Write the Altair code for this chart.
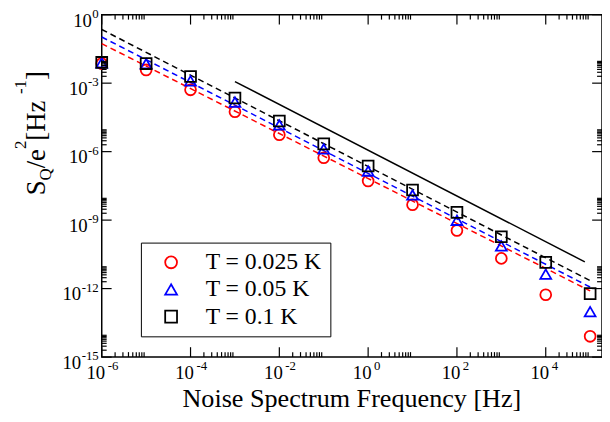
import altair as alt
import pandas as pd

W, H = 507, 347
SERIF = "Liberation Serif"

# ---- data ----
freq = [1e-6, 1e-5, 1e-4, 1e-3, 1e-2, 1e-1, 1e0, 1e1, 1e2, 1e3, 1e4, 1e5]
s_t0025 = [7.2e-3, 3.8e-3, 5.1e-4, 5.6e-5, 5.5e-6, 5.4e-7, 5.2e-8, 4.7e-9, 3.5e-10, 2.1e-11, 5.4e-13, 8.1e-15]
s_t005 = [7.8e-3, 7.1e-3, 1.26e-3, 1.48e-4, 1.48e-5, 1.32e-6, 1.41e-7, 1.26e-8, 9.8e-10, 7.4e-11, 4.3e-12, 9.8e-14]
s_t01 = [8.1e-3, 7.2e-3, 1.95e-3, 2.24e-4, 2.19e-5, 2.19e-6, 2.34e-7, 2.09e-8, 2.19e-9, 1.86e-10, 1.41e-11, 6.0e-13]

series_labels = ["T = 0.025 K", "T = 0.05 K", "T = 0.1 K"]
series_colors = ["#ff0000", "#0000ff", "#000000"]
series_shapes = ["circle", "triangle-up", "square"]

fit_freq = [1e-6, 1e5]
fit_t0025 = [5.4e-2, 7.9e-13]
fit_t005 = [1.05e-1, 1.17e-12]
fit_t01 = [2.24e-1, 2.24e-12]

ref_freq = [1e-3, 7.6e4]
ref_s = [1.17e-3, 1.48e-11]

x_major = [1e-6, 1e-4, 1e-2, 1e0, 1e2, 1e4]
x_exp = ["-6", "-4", "-2", "0", "2", "4"]
y_major = [1e0, 1e-3, 1e-6, 1e-9, 1e-12, 1e-15]
y_exp = ["0", "-3", "-6", "-9", "-12", "-15"]
minor_mult = [2, 3, 4, 5, 6, 7, 8, 9]

x_title = "Noise Spectrum Frequency [Hz]"
y_title_parts = ["S", "Q", "/e", "2", " [Hz", "-1", "]"]

XMAX = 1.85e5
xs = alt.Scale(type="log", domain=[1e-6, XMAX], nice=False)
ys = alt.Scale(type="log", domain=[1e-15, 1.0], nice=False)

layers = []

# dashed fits
for vals, col in zip([fit_t0025, fit_t005, fit_t01], series_colors):
    df = pd.DataFrame({"f": fit_freq, "s": vals})
    layers.append(
        alt.Chart(df).mark_line(color=col, strokeDash=[6, 4], strokeWidth=1.5).encode(
            x=alt.X("f:Q", scale=xs, axis=None), y=alt.Y("s:Q", scale=ys, axis=None)
        )
    )

# solid reference line
layers.append(
    alt.Chart(pd.DataFrame({"f": ref_freq, "s": ref_s})).mark_line(color="black", strokeWidth=1.5).encode(
        x=alt.X("f:Q", scale=xs, axis=None), y=alt.Y("s:Q", scale=ys, axis=None)
    )
)

# points
rows = []
for lbl, vals in zip(series_labels, [s_t0025, s_t005, s_t01]):
    for f, s in zip(freq, vals):
        rows.append({"f": f, "s": s, "series": lbl})
pts = pd.DataFrame(rows)

leg = dict(
    title=None, orient="none", legendX=39.7, legendY=231, padding=8,
    strokeColor="black", fillColor="white", labelFont=SERIF, labelFontSize=24,
    labelColor="black", symbolSize=144, symbolStrokeWidth=1.8, symbolOffset=10.6,
    labelOffset=23, rowPadding=3.5, labelLimit=400, symbolOpacity=1,
)
layers.append(
    alt.Chart(pts).mark_point(filled=False, size=121, strokeWidth=1.8, opacity=1).encode(
        x=alt.X("f:Q", scale=xs, axis=None),
        y=alt.Y("s:Q", scale=ys, axis=None),
        color=alt.Color("series:N", scale=alt.Scale(domain=series_labels, range=series_colors),
                        legend=alt.Legend(**leg)),
        shape=alt.Shape("series:N", scale=alt.Scale(domain=series_labels, range=series_shapes),
                        legend=alt.Legend(**leg)),
    )
)

# ticks (inward, on all four sides)
x_minor = [m * v for v in x_major for m in minor_mult if m * v <= XMAX]
y_minor = [m * v for v in y_major for m in minor_mult if m * v < 1.0]

def xticks(vals, length):
    df = pd.DataFrame({"v": vals})
    out = []
    for y0, y1 in [(H, H - length), (0, length)]:
        out.append(alt.Chart(df).mark_rule(color="black", strokeWidth=1.2).encode(
            x=alt.X("v:Q", scale=xs, axis=None), y=alt.value(y0), y2=alt.value(y1)))
    return out

def yticks(vals, length):
    df = pd.DataFrame({"v": vals})
    out = []
    for x0, x1 in [(0, length), (W, W - length)]:
        out.append(alt.Chart(df).mark_rule(color="black", strokeWidth=1.2).encode(
            y=alt.Y("v:Q", scale=ys, axis=None), x=alt.value(x0), x2=alt.value(x1)))
    return out

layers += xticks(x_major, 10) + xticks(x_minor, 5) + yticks(y_major, 10) + yticks(y_minor, 5)

# x tick labels
xl = pd.DataFrame({"v": x_major, "e": x_exp})
layers.append(alt.Chart(xl).mark_text(text="10", align="right", baseline="alphabetic", dx=3.5,
                                      font=SERIF, fontSize=19, color="black").encode(
    x=alt.X("v:Q", scale=xs, axis=None), y=alt.value(H + 22)))
layers.append(alt.Chart(xl).mark_text(align="left", baseline="alphabetic", dx=6,
                                      font=SERIF, fontSize=13, color="black").encode(
    x=alt.X("v:Q", scale=xs, axis=None), y=alt.value(H + 13), text="e:N"))

# y tick labels
yl = pd.DataFrame({"v": y_major, "e": y_exp})
layers.append(alt.Chart(yl).mark_text(align="right", baseline="alphabetic", dy=3,
                                      font=SERIF, fontSize=13, color="black").encode(
    y=alt.Y("v:Q", scale=ys, axis=None), x=alt.value(-3), text="e:N"))
for n, w in [(1, 7.0), (2, 11.3), (3, 17.8)]:
    layers.append(alt.Chart(yl).transform_filter(f"length(datum.e) == {n}").mark_text(
        text="10", align="right", baseline="alphabetic", dy=12, font=SERIF, fontSize=19,
        color="black").encode(y=alt.Y("v:Q", scale=ys, axis=None), x=alt.value(-3 - w)))

# x title
layers.append(alt.Chart(pd.DataFrame({"t": [x_title]})).mark_text(
    align="center", baseline="alphabetic", font=SERIF, fontSize=26.5, color="black").encode(
    x=alt.value(W / 2), y=alt.value(H + 51), text="t:N"))

# y title (rotated, with sub/superscripts)
base_x = -57
piece_style = [  # (font size, baseline shift; negative = raised)
    (27, 0), (17, 6), (27, 0), (17, -20), (27, 0), (17, -20), (27, 0)
]
widths = [15.0, 12.3, 19.5, 8.5, 47.2, 14.2, 9.0]
ypos = 183.0
for part, (fs, shift), wdt in zip(y_title_parts, piece_style, widths):
    layers.append(alt.Chart(pd.DataFrame({"t": [part]})).mark_text(
        angle=270, align="left", baseline="alphabetic", font=SERIF, fontSize=fs,
        color="black").encode(x=alt.value(base_x + shift), y=alt.value(ypos), text="t:N"))
    ypos -= wdt

chart = alt.layer(*layers).properties(
    width=W, height=H,
    padding={"left": 95, "top": 4, "right": 0, "bottom": 60},
    autosize=alt.AutoSizeParams(type="none"),
    background="white",
).configure_view(stroke="black", strokeWidth=1.5)

chart.save("out.html", embed_options={"renderer": "svg", "actions": False})
